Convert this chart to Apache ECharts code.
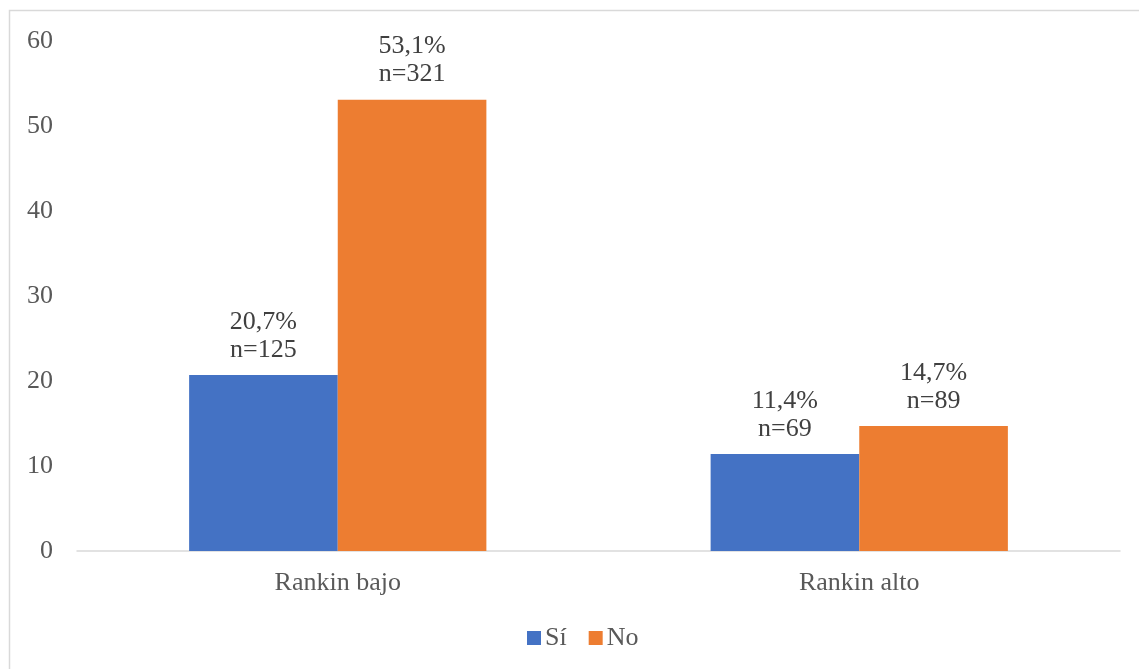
<!DOCTYPE html>
<html>
<head>
<meta charset="utf-8">
<title>Rankin</title>
<script src="https://cdn.jsdelivr.net/npm/echarts@6/dist/echarts.min.js"></script>
<style>
  html, body { margin: 0; padding: 0; background: #ffffff; }
  #chart { width: 1139px; height: 669px; }
</style>
</head>
<body>
<div id="chart"></div>
<script>
// Categories and series (percentages with group counts)
const categories = ['Rankin bajo', 'Rankin alto'];
const siPct = [20.7, 11.4];
const siN = [125, 69];
const noPct = [53.1, 14.7];
const noN = [321, 89];
const yTicks = { min: 0, max: 60, interval: 10 };

const FONT = '"Liberation Serif", "Times New Roman", serif';
const FS = 26;

function labelFor(counts) {
  return function (p) {
    return p.value.toFixed(1).replace('.', ',') + '%\nn=' + counts[p.dataIndex];
  };
}

const barLabel = (counts) => ({
  show: true,
  position: 'top',
  distance: 11,
  color: '#404040',
  fontFamily: FONT,
  fontSize: FS,
  lineHeight: 28,
  formatter: labelFor(counts)
});

const chart = echarts.init(document.getElementById('chart'), null, { renderer: 'canvas' });
chart.setOption({
  animation: false,
  backgroundColor: '#ffffff',
  graphic: [{
    type: 'rect',
    shape: { x: 9.5, y: 10.5, width: 1140, height: 670 },
    style: { fill: 'none', stroke: '#d9d9d9', lineWidth: 1.5 },
    silent: true
  }],
  grid: { left: 77, right: 19, top: 41, bottom: 118, containLabel: false },
  legend: {
    bottom: 13,
    left: 522,
    itemWidth: 14,
    itemHeight: 14,
    itemGap: 22,
    icon: 'rect',
    textStyle: { fontFamily: FONT, fontSize: FS, color: '#595959', padding: [0, 0, 0, -1] },
    data: ['Sí', 'No']
  },
  xAxis: {
    type: 'category',
    data: categories,
    axisLine: { lineStyle: { color: '#d9d9d9', width: 1.5 } },
    axisTick: { show: false },
    axisLabel: { fontFamily: FONT, fontSize: FS, color: '#595959', margin: 19 }
  },
  yAxis: {
    type: 'value',
    min: yTicks.min,
    max: yTicks.max,
    interval: yTicks.interval,
    axisLine: { show: false },
    axisTick: { show: false },
    splitLine: { show: false },
    axisLabel: { fontFamily: FONT, fontSize: FS, color: '#595959', margin: 24 }
  },
  series: [
    {
      name: 'Sí',
      type: 'bar',
      data: siPct,
      barGap: '0%',
      barCategoryGap: '43%',
      itemStyle: { color: '#4472C4' },
      label: barLabel(siN)
    },
    {
      name: 'No',
      type: 'bar',
      data: noPct,
      barGap: '0%',
      barCategoryGap: '43%',
      itemStyle: { color: '#ED7D31' },
      label: barLabel(noN)
    }
  ]
});
</script>
</body>
</html>
